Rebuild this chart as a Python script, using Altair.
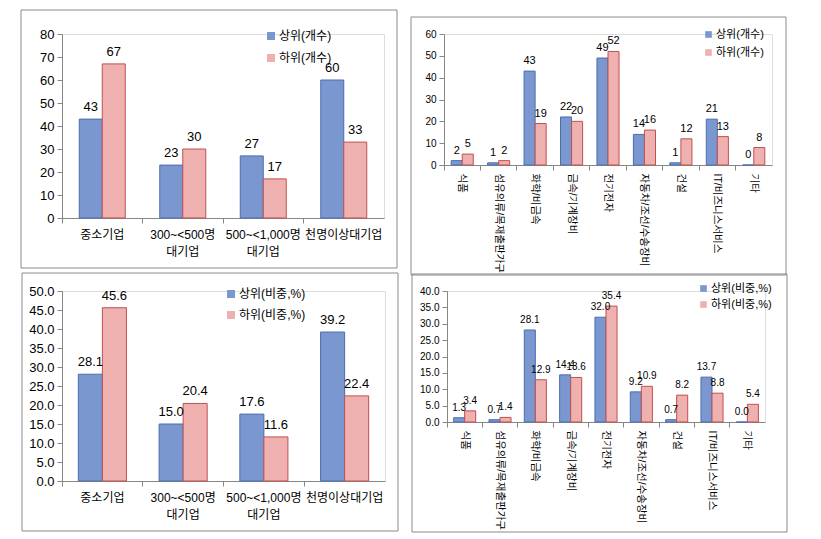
import altair as alt
import pandas as pd

# ---------------- data ----------------
size_cats = ["중소기업", "300~<500명|대기업", "500~<1,000명|대기업", "천명이상대기업"]
size_cnt_top = [43, 23, 27, 60]
size_cnt_low = [67, 30, 17, 33]
size_pct_top = [28.1, 15.0, 17.6, 39.2]
size_pct_low = [45.6, 20.4, 11.6, 22.4]

ind_cats = ["식품", "섬유의류/목재출판가구", "화학/비금속", "금속/기계장비", "전기전자",
            "자동차/조선/수송장비", "건설", "IT/비즈니스서비스", "기타"]
ind_cnt_top = [2, 1, 43, 22, 49, 14, 1, 21, 0]
ind_cnt_low = [5, 2, 19, 20, 52, 16, 12, 13, 8]
ind_pct_top = [1.3, 0.7, 28.1, 14.4, 32.0, 9.2, 0.7, 13.7, 0.0]
ind_pct_low = [3.4, 1.4, 12.9, 13.6, 35.4, 10.9, 8.2, 8.8, 5.4]

cnt_series = ["상위(개수)", "하위(개수)"]
pct_series = ["상위(비중,%)", "하위(비중,%)"]

BLUE = "#7b97cf"
PINK = "#efb0b0"
BLUE_S = "#4a6db0"
PINK_S = "#c0504d"
AXIS = "#868686"
BORDER = "#8a8a8a"
FONT = "Liberation Sans Narrow, Liberation Sans, Noto Sans CJK KR"


def frame(cats, top, low, series):
    rows = []
    for c, a, b in zip(cats, top, low):
        rows.append({"cat": c, "series": series[0], "v": a})
        rows.append({"cat": c, "series": series[1], "v": b})
    return pd.DataFrame(rows)


def panel(cats, top, low, series, w, h, ymax, ystep, fmt, pad_outer,
          border, legend_xy, legend_gap, sym, fs, yfs, xfs, legfs, rotate):
    df = frame(cats, top, low, series)
    xaxis = alt.Axis(title=None, bandPosition=0, domainColor=AXIS, tickColor=AXIS,
                     tickSize=5, labelFontSize=xfs, labelColor="black", labelFont=FONT,
                     labelPadding=6 if not rotate else 3,
                     labelAngle=90 if rotate else 0, labelOverlap=False,
                     labelExpr="split(datum.value, '|')", labelLineHeight=xfs + 5)
    yaxis = alt.Axis(title=None, values=list(range(0, ymax + 1, ystep)),
                     format=fmt, grid=False, domainColor=AXIS, tickColor=AXIS, tickSize=5,
                     labelFontSize=yfs, labelColor="black", labelFont=FONT, labelPadding=3)
    x = alt.X("cat:N", sort=cats, axis=xaxis,
              scale=alt.Scale(paddingInner=0, paddingOuter=0))
    xo = alt.XOffset("series:N", sort=series,
                     scale=alt.Scale(domain=series, paddingInner=0, paddingOuter=pad_outer))
    y = alt.Y("v:Q", axis=yaxis, scale=alt.Scale(domain=[0, ymax], nice=False))
    base = alt.Chart(df).encode(x=x, xOffset=xo, y=y)
    bars = base.mark_bar(strokeWidth=1).encode(
        color=alt.Color("series:N", sort=series,
                        scale=alt.Scale(domain=series, range=[BLUE, PINK]),
                        legend=alt.Legend(title=None, orient="none",
                                          legendX=legend_xy[0], legendY=legend_xy[1],
                                          symbolType="square", symbolSize=sym,
                                          symbolStrokeWidth=0,
                                          labelFontSize=legfs, labelFont=FONT,
                                          labelColor="black", rowPadding=legend_gap,
                                          labelOffset=2)),
        stroke=alt.Stroke("series:N", sort=series,
                          scale=alt.Scale(domain=series, range=[BLUE_S, PINK_S]),
                          legend=None),
    )
    labels = base.mark_text(baseline="bottom", dy=-5, fontSize=fs, font=FONT,
                            color="black").encode(
        text=alt.Text("v:Q", format=fmt))
    bdf = pd.DataFrame({"k": [0]})
    box = alt.Chart(bdf).mark_rect(fill="white", fillOpacity=0, stroke=BORDER,
                                   strokeWidth=1).encode(
        x=alt.value(border[0]), x2=alt.value(border[1]),
        y=alt.value(border[2]), y2=alt.value(border[3]))
    return alt.layer(box, bars, labels).properties(width=w, height=h)


p1 = panel(size_cats, size_cnt_top, size_cnt_low, cnt_series, 322, 184, 80, 10, "d",
           0.75, (-41, 335, -24, 234), (203, -4), 10, 64, 13, 13, 12, 12, False)
p2 = panel(ind_cats, ind_cnt_top, ind_cnt_low, cnt_series, 328, 131, 60, 10, "d",
           0.65, (-33, 342, -17, 241), (259, -5), 6, 44, 11, 10, 10.5, 11, True)
p3 = panel(size_cats, size_pct_top, size_pct_low, pct_series, 323, 190, 50, 5, ".1f",
           0.68, (-40, 336, -18, 240), (163, -3), 9, 64, 13, 13, 12, 12, False)
p4 = panel(ind_cats, ind_pct_top, ind_pct_low, pct_series, 318, 131, 40, 5, ".1f",
           0.6, (-35, 340, -17, 241), (251, -8), 4, 44, 10, 10, 10.5, 11, True)

res = dict(color="independent", stroke="independent", x="independent",
           y="independent", xOffset="independent")
leg = dict(color="independent", stroke="independent")
row1 = alt.hconcat(p1, p2, spacing=12).resolve_scale(**res).resolve_legend(**leg)
row2 = alt.hconcat(p3, p4, spacing=12).resolve_scale(**res).resolve_legend(**leg)
chart = alt.vconcat(row1, row2, spacing=-4).resolve_scale(**res).resolve_legend(**leg).properties(
    padding={"left": 12, "top": 1, "right": 0, "bottom": 0}
).configure_view(stroke=None).configure(background="white")

chart.save("out.html", embed_options={"renderer": "svg", "actions": False})
